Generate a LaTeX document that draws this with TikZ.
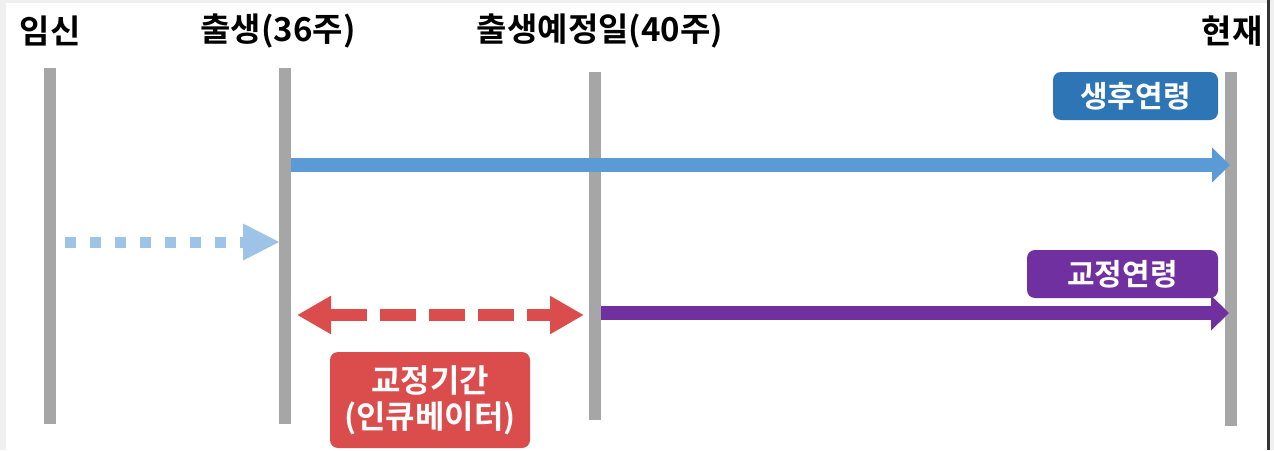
\documentclass[tikz,border=0pt]{standalone}
\usepackage{fontspec}
\setmainfont{Noto Sans CJK KR}[BoldFont={Noto Sans CJK KR Bold}]
\usetikzlibrary{arrows.meta}
\definecolor{barg}{HTML}{A6A6A6}
\definecolor{ablue}{HTML}{5B9BD5}
\definecolor{bblue}{HTML}{2E75B6}
\definecolor{lblue}{HTML}{9DC3E6}
\definecolor{apurple}{HTML}{7030A0}
\definecolor{ared}{HTML}{DB4D4D}
\definecolor{frameg}{HTML}{F0F0F0}
\begin{document}
\begin{tikzpicture}[x=1pt,y=-1pt,
  bar/.style={barg,line width=12pt},
  title/.style={font=\fontsize{33}{36}\selectfont\bfseries,text=black,inner sep=0pt},
  tag/.style={rounded corners=8pt,text=white,font=\fontsize{30}{34}\selectfont\bfseries,inner sep=0pt,align=center},
  bigarrow/.style={line width=14pt,-{Triangle[length=18pt,width=34pt]}}
]
\useasboundingbox (0,0) rectangle (1274,450);
\fill[frameg] (0,0) rectangle (1274,450);
\fill[white] (6,3) rectangle (1267,450);
\fill[black!80] (1267,0) rectangle (1269.5,450);
% bars
\coordinate (b1t) at (50,68); \coordinate (b1b) at (50,424);
\coordinate (b2t) at (285,68); \coordinate (b2b) at (285,424);
\coordinate (b3t) at (595,72); \coordinate (b3b) at (595,420);
\coordinate (b4t) at (1231,72); \coordinate (b4b) at (1231,426);
\draw[bar] (b1t) -- (b1b);
\draw[bar] (b2t) -- (b2b);
\draw[bar] (b3t) -- (b3b);
\draw[bar] (b4t) -- (b4b);
% titles
\node[title] (t1) at (50,31) {임신};
\node[title] (t2) at (278,31) {출생(36주)};
\node[title] (t3) at (600,31) {출생예정일(40주)};
\node[title] (t4) at (1232,31) {현재};
% blue arrow
\coordinate (ba1) at (291,165); \coordinate (ba2) at (1230,165);
\draw[ablue,bigarrow] (ba1) -- (ba2);
\node[tag,fill=bblue,minimum width=165pt,minimum height=48pt] (n1) at (1135.5,96) {생후연령};
% dotted arrow
\coordinate (da1) at (65,242); \coordinate (da2) at (280,242);
\draw[lblue,line width=11pt,dash pattern=on 11pt off 14pt,-{Triangle[length=37pt,width=34pt]}] (da1) -- (da2);
% red double arrow
\coordinate (ra1) at (297,315); \coordinate (ra2) at (584,315);
\draw[ared,line width=12pt,dash pattern=on 36pt off 13pt,dash phase=-2pt,{Triangle[length=34pt,width=36pt]}-{Triangle[length=34pt,width=36pt]}] (ra1) -- (ra2);
% purple arrow
\coordinate (pa1) at (601,313); \coordinate (pa2) at (1229,313);
\draw[apurple,bigarrow] (pa1) -- (pa2);
\node[tag,fill=apurple,minimum width=191pt,minimum height=48pt] (n2) at (1122.5,274) {교정연령};
% red box
\node[tag,fill=ared,minimum width=200pt,minimum height=96pt,font=\fontsize{32}{36}\selectfont\bfseries] (n3) at (430,400) {교정기간\\(인큐베이터)};
\end{tikzpicture}
\end{document}
